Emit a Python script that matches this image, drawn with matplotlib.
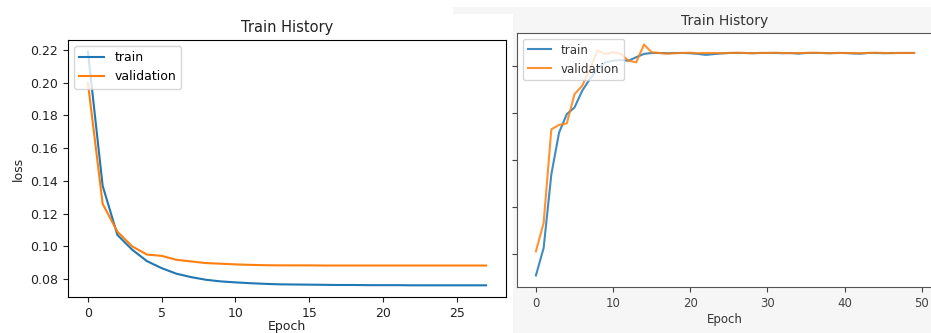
import matplotlib
matplotlib.use('Agg')
import matplotlib.pyplot as plt
from matplotlib.patches import Rectangle

# Datos: historial de entrenamiento (loss, izquierda)
loss_epochs = list(range(28))
loss_train = [0.219, 0.137, 0.107, 0.098, 0.091, 0.0867, 0.0833, 0.0812, 0.0796, 0.0786,
              0.0780, 0.0775, 0.0771, 0.0768, 0.0767, 0.0766, 0.0765, 0.0764, 0.0764, 0.0763,
              0.0763, 0.0763, 0.0762, 0.0762, 0.0762, 0.0762, 0.0762, 0.0762]
loss_val = [0.200, 0.126, 0.109, 0.100, 0.095, 0.0942, 0.0918, 0.0908, 0.0898, 0.0894,
            0.0890, 0.0887, 0.0885, 0.0884, 0.0884, 0.0884, 0.0883, 0.0883, 0.0883, 0.0883,
            0.0883, 0.0883, 0.0883, 0.0883, 0.0883, 0.0883, 0.0883, 0.0883]

# Datos: historial de entrenamiento (accuracy, derecha)
acc_epochs = list(range(50))
acc_train = [0.8907, 0.9024, 0.9339, 0.9517, 0.9596, 0.9624, 0.9696, 0.9746, 0.9789, 0.9817,
             0.9824, 0.9827, 0.9824, 0.9839, 0.9853, 0.9857, 0.9857, 0.9856, 0.9857, 0.9857,
             0.9856, 0.9853, 0.9849, 0.9852, 0.9855, 0.9857, 0.9857, 0.9857, 0.9856, 0.9857,
             0.9857, 0.9857, 0.9856, 0.9857, 0.9854, 0.9857, 0.9857, 0.9857, 0.9856, 0.9857,
             0.9857, 0.9855, 0.9854, 0.9857, 0.9857, 0.9856, 0.9857, 0.9857, 0.9857, 0.9857]
acc_val = [0.9010, 0.9131, 0.9531, 0.9550, 0.9556, 0.9681, 0.9717, 0.9789, 0.9867, 0.9853,
           0.9860, 0.9853, 0.9824, 0.9817, 0.9893, 0.9860, 0.9857, 0.9854, 0.9856, 0.9857,
           0.9858, 0.9856, 0.9857, 0.9857, 0.9856, 0.9857, 0.9858, 0.9857, 0.9856, 0.9857,
           0.9857, 0.9858, 0.9857, 0.9856, 0.9857, 0.9857, 0.9858, 0.9857, 0.9856, 0.9857,
           0.9857, 0.9857, 0.9856, 0.9857, 0.9858, 0.9857, 0.9856, 0.9857, 0.9857, 0.9857]
acc_ticks = [0.90, 0.92, 0.94, 0.96, 0.98]

fig = plt.figure(figsize=(9.31, 3.33), dpi=100)
W, H = 931, 333

# fondo: captura derecha gris claro detras de la captura izquierda blanca
fig.patches.append(Rectangle((453 / W, 0), 1, 1 - 7 / H, transform=fig.transFigure,
                             facecolor='#f6f6f6', edgecolor='none', zorder=-2))
fig.patches.append(Rectangle((0, 0), 513 / W, 1 - 14 / H, transform=fig.transFigure,
                             facecolor='white', edgecolor='none', zorder=-1))

# Grafico izquierdo (loss)
ax1 = fig.add_axes([68 / W, 1 - 297 / H, 438 / W, 257 / H])
ax1.plot(loss_epochs, loss_train, color='#1f77b4', lw=1.5, label='train')
ax1.plot(loss_epochs, loss_val, color='#ff7f0e', lw=1.5, label='validation')
ax1.set_yticks([0.08, 0.10, 0.12, 0.14, 0.16, 0.18, 0.20, 0.22])
ax1.set_title('Train History', fontsize=10.5, color='#222222')
ax1.set_xlabel('Epoch', fontsize=9, color='#222222', labelpad=0.5)
ax1.set_ylabel('loss', fontsize=9, color='#222222')
ax1.tick_params(labelsize=9, colors='#222222')
ax1.legend(loc='upper left', fontsize=9)

# Grafico derecho (accuracy, etiquetas del eje y recortadas)
ax2 = fig.add_axes([517 / W, 1 - 287 / H, 416 / W, 254 / H])
ax2.plot(acc_epochs, acc_train, color='#1f77b4', lw=1.5, alpha=0.85, label='train')
ax2.plot(acc_epochs, acc_val, color='#ff7f0e', lw=1.5, alpha=0.85, label='validation')
ax2.set_yticks(acc_ticks)
ax2.tick_params(labelleft=False, labelsize=8.5, colors='#444444')
for s in ax2.spines.values():
    s.set_color('#555555')
ax2.set_title('Train History', fontsize=10, color='#333333')
ax2.set_xlabel('Epoch', fontsize=8.5, color='#333333', labelpad=2)
ax2.legend(loc='upper left', fontsize=8.5, labelcolor='#333333')

fig.savefig('out.png', dpi=100)
